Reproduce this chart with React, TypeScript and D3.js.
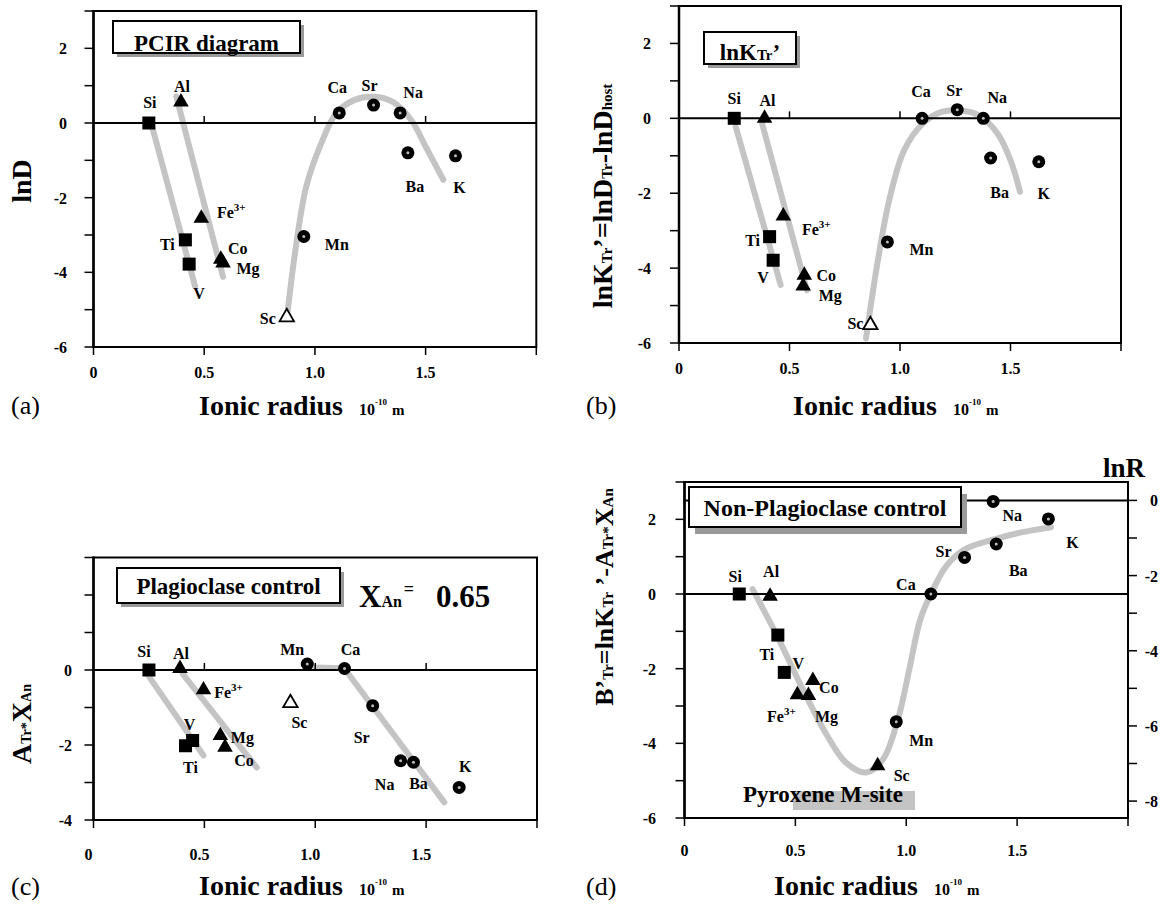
import React from 'react';
import * as d3 from 'd3';

const FONT = '"Liberation Serif", "Times New Roman", serif';
const GRAY = '#c4c4c4';

// element order used by every panel
const elements = ['Si', 'Al', 'Fe', 'Ti', 'V', 'Co', 'Mg', 'Sc', 'Mn', 'Ca', 'Sr', 'Na', 'Ba', 'K'];
const shapesABC = ['square', 'triangle', 'triangle', 'square', 'square', 'triangle', 'triangle', 'open', 'circle', 'circle', 'circle', 'circle', 'circle', 'circle'];
const shapesD = ['square', 'triangle', 'triangle', 'square', 'square', 'triangle', 'triangle', 'triangle', 'circle', 'circle', 'circle', 'circle', 'circle', 'circle'];

// (a) PCIR diagram: lnD
const radiusA = [0.25, 0.395, 0.487, 0.415, 0.432, 0.575, 0.585, 0.873, 0.95, 1.11, 1.265, 1.385, 1.42, 1.635];
const lnD = [0, 0.56, -2.55, -3.13, -3.78, -3.65, -3.75, -5.2, -3.04, 0.27, 0.48, 0.27, -0.8, -0.88];
// (b) lnK'Tr
const radiusB = [0.25, 0.387, 0.472, 0.41, 0.426, 0.567, 0.562, 0.866, 0.943, 1.1, 1.259, 1.377, 1.41, 1.628];
const lnK = [0, 0, -2.61, -3.16, -3.79, -4.19, -4.48, -5.52, -3.3, 0, 0.23, 0, -1.06, -1.16];
// (c) plagioclase control: ATr*XAn
const radiusC = [0.25, 0.39, 0.496, 0.415, 0.447, 0.593, 0.572, 0.888, 0.964, 1.132, 1.259, 1.385, 1.443, 1.649];
const aTrXAn = [0, 0.04, -0.53, -2.02, -1.88, -2.06, -1.75, -0.88, 0.16, 0.04, -0.95, -2.42, -2.46, -3.13];
// (d) non-plagioclase control: B'Tr
const radiusD = [0.247, 0.386, 0.509, 0.421, 0.45, 0.579, 0.559, 0.871, 0.955, 1.111, 1.263, 1.392, 1.406, 1.641];
const bTr = [0, -0.06, -2.7, -1.1, -2.1, -2.32, -2.72, -4.6, -3.42, 0, 0.98, 2.48, 1.34, 2.01];

// gray trend curves
const trendA = [
  { pts: [[0.265, -0.1], [0.459, -4.38]], smooth: false },
  { pts: [[0.374, 0.71], [0.585, -4.12]], smooth: false },
  { pts: [[0.877, -5.05], [0.91, -3.49], [0.961, -1.7], [1.029, -0.54], [1.096, 0.26], [1.18, 0.62], [1.265, 0.7], [1.35, 0.57], [1.435, 0.08], [1.5, -0.63], [1.58, -1.52]], smooth: true },
];
const trendB = [
  { pts: [[0.257, -0.23], [0.46, -4.45]], smooth: false },
  { pts: [[0.376, -0.14], [0.579, -4.59]], smooth: false },
  { pts: [[0.846, -5.88], [0.9, -3.79], [0.951, -2.19], [1.019, -0.85], [1.103, -0.14], [1.188, 0.17], [1.272, 0.21], [1.357, 0.08], [1.442, -0.41], [1.5, -1.12], [1.543, -1.96]], smooth: true },
];
const trendC = [
  { pts: [[0.252, -0.19], [0.496, -2.28]], smooth: false },
  { pts: [[0.403, -0.11], [0.736, -2.6]], smooth: false },
  { pts: [[0.99, 0.07], [1.13, 0.05], [1.144, -0.06], [1.582, -3.53]], smooth: false },
];
const trendD = [
  { pts: [[0.307, 0.13], [0.424, -1.2], [0.525, -2.45], [0.643, -3.79], [0.727, -4.51], [0.82, -4.78], [0.896, -4.42], [0.963, -3.35], [1.014, -2.01], [1.064, -0.67], [1.115, 0.05], [1.182, 0.76], [1.266, 1.2], [1.401, 1.47], [1.519, 1.65], [1.653, 1.79]], smooth: true },
];

// label offsets (px) from each marker
const offsetsA = [[1, -15], [1, -10], [30, 0], [-18, 10], [10, 35], [17, -5], [25, 11], [-19, 7], [33, 14], [-2, -20], [-4, -14], [13, -15], [7, 39], [4, 37]];
const offsetsB = [[0, -14], [3, -12], [33, 19], [-17, 9], [-10, 23], [22, 6], [27, 15], [-15, 4], [34, 13], [-1, -21], [-3, -14], [14, -15], [9, 40], [5, 37]];
const offsetsC = [[-5, -13], [1, -10], [25, 8], [5, 27], [-3, -11], [19, 19], [22, 7], [9, 25], [-15, -9], [6, -14], [-11, 37], [-16, 29], [5, 27], [6, -15]];
const offsetsD = [[-4, -12], [1, -19], [-16, 27], [-11, 25], [14, -3], [16, 12], [18, 26], [24, 15], [25, 24], [-25, -4], [-21, 0], [19, 20], [22, 32], [24, 29]];

const xTickLabels = [0, 0.5, 1, 1.5];
const yLabelsFull = [2, 0, -2, -4, -6];
const yLabelsC = [0, -2, -4];
const lnRLabels = [0, -2, -4, -6, -8];

const Marker = ({ shape, cx, cy }) => {
  if (shape === 'square') return <rect x={cx - 6.5} y={cy - 6.5} width={13} height={13} fill="#000" />;
  if (shape === 'circle') return (
    <g>
      <circle cx={cx} cy={cy} r={6.5} fill="#000" />
      <circle cx={cx} cy={cy} r={1.5} fill="#bbb" />
    </g>
  );
  const tri = d3.symbol(d3.symbolTriangle, shape === 'open' ? 90 : 105)();
  return (
    <path d={tri} transform={`translate(${cx},${cy})`}
      fill={shape === 'open' ? '#fff' : '#000'} stroke="#000" strokeWidth={shape === 'open' ? 1.8 : 0} />
  );
};

const ElementLabel = ({ name, x, y }) => (
  <text x={x} y={y} textAnchor="middle" fontWeight="bold" fontSize={16}>
    {name === 'Fe' ? <>Fe<tspan fontSize={11} dy={-7}>3+</tspan></> : name}
  </text>
);

const Panel = ({ left, right, top, bottom, yMin, yMax, yLabels, xs, ys, shapes, offsets, curves, zeroTicks, labelX, xLabelY, xLabelDx = 0 }) => {
  const x = d3.scaleLinear().domain([0, 2]).range([left, right]);
  const y = d3.scaleLinear().domain([yMin, yMax]).range([bottom, top]);
  const yTicks = d3.range(yMin, yMax + 1);
  const xTicks = [0, 0.5, 1, 1.5, 2];
  const line = d3.line().x(d => x(d[0])).y(d => y(d[1]));

  return (
    <g>
      {curves.map((c, i) =>
        <path key={`c-${i}`} d={line.curve(c.smooth ? d3.curveCatmullRom : d3.curveLinear)(c.pts)}
          fill="none" stroke={GRAY} strokeWidth={6} strokeLinecap="round" strokeLinejoin="round" />
      )}
      <line x1={left} x2={right} y1={y(0)} y2={y(0)} stroke="#000" strokeWidth={2} />
      {zeroTicks && [0.5, 1, 1.5].map(t =>
        <line key={`zt-${t}`} x1={x(t)} x2={x(t)} y1={y(0)} y2={y(0) - 7} stroke="#000" strokeWidth={1.5} />
      )}
      <rect x={left} y={top} width={right - left} height={bottom - top} fill="none" stroke="#000" strokeWidth={2} />
      <line x1={left} x2={left} y1={top - 1} y2={bottom + 1} stroke="#000" strokeWidth={2.5} />
      {yTicks.map(t =>
        <line key={`yt-${t}`} x1={left - 9} x2={left} y1={y(t)} y2={y(t)} stroke="#000" strokeWidth={1.5} />
      )}
      {yLabels.map(t =>
        <text key={`yl-${t}`} x={labelX} y={y(t) + 6} textAnchor="end" fontWeight="bold" fontSize={16}>{String(t)}</text>
      )}
      {xTicks.map(t =>
        <line key={`xt-${t}`} x1={x(t)} x2={x(t)} y1={bottom} y2={bottom + 8} stroke="#000" strokeWidth={1.5} />
      )}
      {xTickLabels.map(t =>
        <text key={`xl-${t}`} x={x(t) + xLabelDx} y={xLabelY} textAnchor="middle" fontWeight="bold" fontSize={16}>
          {t === 0 ? '0' : t.toFixed(1)}
        </text>
      )}
      {elements.map((el, i) =>
        <Marker key={`m-${el}`} shape={shapes[i]} cx={x(xs[i])} cy={y(ys[i])} />
      )}
      {elements.map((el, i) =>
        <ElementLabel key={`l-${el}`} name={el} x={x(xs[i]) + offsets[i][0]} y={y(ys[i]) + offsets[i][1]} />
      )}
    </g>
  );
};

const XTitle = ({ x, y }) => (
  <text x={x} y={y} fontWeight="bold" fontSize={28}>
    Ionic radius
    <tspan fontSize={16} dx={16}>10</tspan>
    <tspan fontSize={9} dy={-10}>-10</tspan>
    <tspan fontSize={15} dx={5} dy={10}>m</tspan>
  </text>
);

const Box = ({ x, y, w, h, sx = 4, sy = 4, children }) => (
  <g>
    <rect x={x + sx} y={y + sy} width={w} height={h} fill="#9a9a9a" />
    <rect x={x} y={y} width={w} height={h} fill="#fff" stroke="#000" strokeWidth={2} />
    {children}
  </g>
);

const App = () => {
  // right-hand lnR axis of panel (d)
  const dTop = 482, dBottom = 818, dRight = 1128;
  const yR = d3.scaleLinear().domain([-8.45, 0.49]).range([dBottom, dTop]);
  const lnRTicks = d3.range(-8, 1);

  return (
    <svg width={1168} height={904} fontFamily={FONT} style={{ position: 'absolute', left: 0, top: 0 }}>
      <rect width={1168} height={904} fill="#fff" />

      {/* (a) */}
      <Panel left={93.5} right={536.3} top={11} bottom={347} yMin={-6} yMax={3} yLabels={yLabelsFull}
        xs={radiusA} ys={lnD} shapes={shapesABC} offsets={offsetsA} curves={trendA}
        zeroTicks labelX={67} xLabelY={378} />
      <Box x={113} y={21} w={187} h={32}>
        <text x={206.5} y={51} textAnchor="middle" fontWeight="bold" fontSize={23}>PCIR diagram</text>
      </Box>
      <text transform="translate(31,181) rotate(-90)" textAnchor="middle" fontWeight="bold" fontSize={28}>lnD</text>
      <XTitle x={199} y={415} />
      <text x={11} y={414} fontSize={26}>(a)</text>

      {/* (b) */}
      <Panel left={679} right={1121} top={6} bottom={343} yMin={-6} yMax={3} yLabels={yLabelsFull}
        xs={radiusB} ys={lnK} shapes={shapesABC} offsets={offsetsB} curves={trendB}
        zeroTicks labelX={651} xLabelY={374} />
      <Box x={704} y={32} w={92} h={32}>
        <text x={750} y={60} textAnchor="middle" fontWeight="bold" fontSize={23}>
          lnK<tspan fontSize={15}>Tr</tspan>’
        </text>
      </Box>
      <text transform="translate(612,196) rotate(-90)" textAnchor="middle" fontWeight="bold" fontSize={28}>
        lnK<tspan fontSize={15}>Tr</tspan>’=lnD<tspan fontSize={15}>Tr</tspan>-lnD<tspan fontSize={15}>host</tspan>
      </text>
      <XTitle x={793} y={415} />
      <text x={586} y={414} fontSize={26}>(b)</text>

      {/* (c) */}
      <Panel left={93.5} right={537} top={557.5} bottom={820} yMin={-4} yMax={3} yLabels={yLabelsC}
        xs={radiusC} ys={aTrXAn} shapes={shapesABC} offsets={offsetsC} curves={trendC}
        zeroTicks labelX={72} xLabelY={860} xLabelDx={-5} />
      <Box x={117} y={568} w={223} h={35}>
        <text x={228.5} y={594} textAnchor="middle" fontWeight="bold" fontSize={23}>Plagioclase control</text>
      </Box>
      <text x={359} y={607} fontWeight="bold" fontSize={31}>
        X<tspan fontSize={16}>An</tspan>
        <tspan fontSize={18} dx={2} dy={-12}>=</tspan>
        <tspan fontSize={31} dx={22} dy={12}>0.65</tspan>
      </text>
      <text transform="translate(31,724) rotate(-90)" textAnchor="middle" fontWeight="bold" fontSize={28}>
        A<tspan fontSize={14}>Tr*</tspan>X<tspan fontSize={14}>An</tspan>
      </text>
      <XTitle x={199} y={895} />
      <text x={11} y={895} fontSize={26}>(c)</text>

      {/* (d) */}
      <line x1={684.5} x2={dRight} y1={yR(0)} y2={yR(0)} stroke="#000" strokeWidth={2} />
      <Panel left={684.5} right={dRight} top={dTop} bottom={dBottom} yMin={-6} yMax={3} yLabels={yLabelsFull}
        xs={radiusD} ys={bTr} shapes={shapesD} offsets={offsetsD} curves={trendD}
        zeroTicks={false} labelX={656} xLabelY={856} />
      {lnRTicks.map(t =>
        <line key={`rt-${t}`} x1={dRight} x2={dRight + 9} y1={yR(t)} y2={yR(t)} stroke="#000" strokeWidth={1.5} />
      )}
      {lnRLabels.map(t =>
        <text key={`rl-${t}`} x={1158} y={yR(t) + 6} textAnchor="end" fontWeight="bold" fontSize={16}>{String(t)}</text>
      )}
      <text x={1103} y={477} fontWeight="bold" fontSize={27}>lnR</text>
      <Box x={689} y={487} w={272} h={40} sx={6} sy={7}>
        <text x={825} y={516} textAnchor="middle" fontWeight="bold" fontSize={24}>Non-Plagioclase control</text>
      </Box>
      <rect x={793} y={791} width={122} height={19} fill={GRAY} />
      <text x={743} y={802} fontWeight="bold" fontSize={23}>Pyroxene M-site</text>
      <text transform="translate(613,597) rotate(-90)" textAnchor="middle" fontWeight="bold" fontSize={26}>
        B’<tspan fontSize={15}>Tr</tspan>=lnK<tspan fontSize={15}>Tr</tspan> ’-A<tspan fontSize={15}>Tr*</tspan>X<tspan fontSize={15}>An</tspan>
      </text>
      <XTitle x={774} y={895} />
      <text x={586} y={895} fontSize={26}>(d)</text>
    </svg>
  );
};

export default App;
